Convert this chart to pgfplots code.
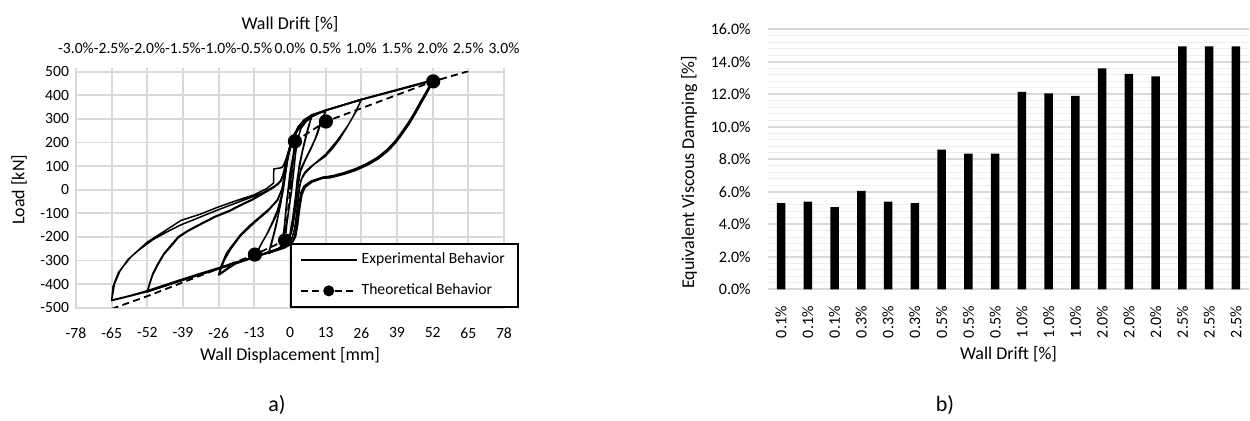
\documentclass[border=0pt]{standalone}
\usepackage{fontspec}
\setmainfont{Carlito}
\usepackage{pgfplots}
\pgfplotsset{compat=1.18}
\definecolor{gridgray}{HTML}{D9D9D9}
\definecolor{minorgray}{HTML}{EEEEEE}

\begin{document}
\begin{tikzpicture}
\useasboundingbox (0,0) rectangle (625pt,-210.5pt);

% ---------------- top (drift) axis of chart a)
\begin{axis}[
  at={(38pt,-35.85pt)}, anchor=north west,
  width=214pt, height=118pt, scale only axis,
  xmin=-3, xmax=3, ymin=0, ymax=1,
  axis x line*=top, axis y line=none,
  xtick={-3,-2.5,-2,-1.5,-1,-0.5,0,0.5,1,1.5,2,2.5,3},
  xticklabels={-3.0\%,-2.5\%,-2.0\%,-1.5\%,-1.0\%,-0.5\%,0.0\%,0.5\%,1.0\%,1.5\%,2.0\%,2.5\%,3.0\%},
  xticklabel style={yshift=3.5pt},
  xlabel={Wall Drift [\%]},
  xlabel style={yshift=-1.5pt},
  tick align=outside, major tick length=2pt,
  tick style={gridgray, line width=0.9pt},
  axis line style={draw=none},
  tick label style={font=\fontsize{7.8}{9.5}\selectfont},
  label style={font=\fontsize{9}{11}\selectfont},
]
\end{axis}

% ---------------- chart a)
\begin{axis}[
  at={(38pt,-35.85pt)}, anchor=north west,
  width=214pt, height=118pt, scale only axis,
  xmin=-78, xmax=78, ymin=-500, ymax=500,
  xtick={-78,-65,-52,-39,-26,-13,0,13,26,39,52,65,78},
  xticklabels={-78,-65,-52,-39,-26,-13,0,13,26,39,52,65,78},
  ytick={-500,-400,-300,-200,-100,0,100,200,300,400,500},
  yticklabels={-500,-400,-300,-200,-100,0,100,200,300,400,500},
  grid=major,
  grid style={gridgray, line width=0.9pt},
  axis line style={gridgray, line width=0.9pt},
  major tick length=0pt,
  tick label style={font=\fontsize{7.8}{9.5}\selectfont},
  xticklabel style={yshift=-6.5pt},
  xlabel={Wall Displacement [mm]},
  ylabel={Load [kN]},
  label style={font=\fontsize{9}{11}\selectfont},
  xlabel style={yshift=2.5pt},
  legend style={at={(0.5,0)}, anchor=south west, draw=black, line width=0.9pt,
    fill=white, font=\fontsize{7.8}{9.5}\selectfont, row sep=4.5pt,
    inner xsep=4.5pt, inner ysep=2.5pt, cells={anchor=west}},
  legend image code/.code={\draw[#1, mark indices={2}, mark size=2.3pt] plot coordinates {(0pt,0pt) (14pt,0pt) (28pt,0pt)};},
]
% 0.1% cycles
\addplot[black, line width=0.75pt, line join=round] coordinates {
(0,0) (0.6,80) (1.3,150) (2.6,200) (2.0,150) (1.2,60) (0.6,0) (-0.4,-80) (-1.2,-150) (-2.6,-205)
(-2.0,-150) (-1.3,-60) (-0.7,0) (0,70) (1.3,155) (2.6,205) (1.9,140) (1.0,40) (0.4,-20)
(-1.3,-150) (-2.6,-210) (-1.8,-130) (-1.0,-40) (-0.4,20) (0.5,100) (1.5,170) (2.6,205)
};
\addlegendentry{Experimental Behavior}
% 0.3% cycles
\addplot[black, line width=0.75pt, line join=round, forget plot] coordinates {
(2.6,205) (4,260) (6,290) (7.8,305) (6.5,260) (5,190) (3.5,110) (2.6,40) (2,-30) (1,-120)
(0,-190) (-1.5,-225) (-3,-240) (-5,-255) (-7.8,-268) (-6.5,-220) (-5,-150) (-3.6,-70)
(-2.5,0) (-1.5,80) (-0.5,160) (1,210) (3,260) (5,290) (7.8,308) (6.2,240) (4.5,160) (3.2,80)
(2.3,0) (1.5,-90) (0.5,-180) (-1,-220) (-4,-250) (-7.8,-270) (-6,-190) (-4.3,-110) (-3,-30)
(-2,50) (-1,130) (0.5,195) (2.5,245) (5,288) (7.8,310)
};
% 0.5% cycles
\addplot[black, line width=0.75pt, line join=round, forget plot] coordinates {
(7.8,310) (10,322) (13,333) (11.5,290) (9.8,230) (7.5,170) (5.7,128) (3.6,71) (2.6,0)
(1.8,-90) (0.8,-170) (-0.5,-215) (-3,-243) (-6,-258) (-9,-270) (-13,-285) (-11.5,-255)
(-10,-220) (-8,-180) (-6.7,-150) (-5,-110) (-3.6,-65) (-2.5,0) (-1.5,80) (-0.5,150) (0.8,210)
(3,265) (6,300) (9,318) (13,335) (11,280) (9,210) (6.5,150) (4,90) (3,20) (2.2,-70) (1,-160)
(-0.5,-210) (-4,-248) (-8,-265) (-13,-287) (-10.5,-230) (-8.5,-190) (-6.5,-140) (-4.5,-85)
(-3,-20) (-2,60) (-1,140) (0.5,205) (3,268) (7,305) (13,337)
};
% 1.0% cycles
\addplot[black, line width=0.75pt, line join=round, forget plot] coordinates {
(13,337) (18,355) (22,368) (26,380) (24.5,345) (23,310) (20.5,260) (18,213) (15.5,175)
(12.9,142) (10,118) (7.7,99) (5.5,75) (4.6,57) (3.6,20) (3.1,-30) (2.5,-100) (1.6,-170)
(0.5,-215) (-2,-240) (-6,-258) (-10,-272) (-14,-288) (-18,-305) (-22,-325) (-26,-360)
(-25,-320) (-23.2,-270) (-21,-235) (-18,-190) (-14.5,-150) (-10.8,-113) (-7.5,-80) (-4.6,-43)
(-3.4,-10) (-2.6,14) (-2,60) (-1.3,120) (-0.3,175) (1.5,235) (4,280) (8,313) (13,336)
(19,358) (26,382) (24,330) (21,270) (17,205) (13,150) (9,110) (5.5,70) (4,40) (3.2,-10)
(2.6,-80) (1.8,-160) (0.5,-213) (-3,-245) (-8,-265) (-14,-290) (-20,-315) (-26,-362)
(-24,-300) (-21.5,-250) (-18,-195) (-13,-140) (-8,-90) (-4.5,-45) (-3,0) (-2.2,50)
(-1.3,120) (0,180) (2,245) (5,292) (13,337) (26,383)
};
% 2.0% cycles
\addplot[black, line width=0.75pt, line join=round, forget plot] coordinates {
(26,383) (32,400) (39,422) (45,440) (52,462) (51,440) (49.5,408) (47.5,368) (45.5,326)
(43.5,287) (41,245) (38.5,205) (35.5,168) (32,135) (28,108) (24,87) (20,71) (16,58) (14,54)
(12,52) (7.7,35) (5.2,14) (4.1,-14) (3.6,-50) (3.1,-85) (2.7,-130) (2.3,-170) (1.5,-210)
(0,-230) (-3,-248) (-8,-265) (-13,-285) (-20,-310) (-26,-333) (-33,-358) (-39.7,-383)
(-46,-408) (-52,-430) (-51,-390) (-50,-355) (-48,-310) (-45.9,-270) (-43,-230) (-40.7,-199)
(-37.5,-175) (-34.5,-156) (-31,-135) (-27.3,-113) (-22,-88) (-18,-64) (-14,-42) (-10.8,-21)
(-8,-2) (-5.7,14) (-4.2,28) (-3.1,43) (-2.3,70) (-1.5,99) (-0.8,140) (0,170) (1.5,225)
(3,265) (5,295) (8,318) (13,337) (20,360) (26,383) (32,402) (39,424) (45,443) (52,465)
(51.2,438) (49.7,405) (47.7,364) (45.7,322) (43.7,283) (41.2,241) (38.7,201) (35.7,164)
(32.2,131) (28.2,104) (24.2,83) (20.2,67) (16.2,55) (14.5,50) (12,49) (8,32) (5.5,10)
(4.4,-20) (3.8,-60) (3.3,-100) (2.8,-150) (2,-200) (0.8,-225) (-3,-250) (-8,-268) (-13,-287)
(-20,-313) (-26,-336) (-33,-361) (-39.7,-386) (-46,-410) (-52,-433) (-51,-395) (-50,-360)
(-48,-315) (-46,-275) (-43,-235) (-40.7,-203) (-37.5,-178) (-34.5,-159) (-31,-138)
(-27.3,-116) (-22,-91) (-18,-67) (-14,-45) (-10.8,-24) (-8,-5) (-5.7,11) (-4.2,25)
(-3.1,40) (-2.3,68) (-1.5,97) (-0.8,138) (0,168) (1.5,223) (3,262) (5,293) (8,316)
(13,335) (26,381) (39,421) (52,462)
};
% 2.5% cycles
\addplot[black, line width=0.75pt, line join=round, forget plot] coordinates {
(52,462) (51.1,439) (49.6,406) (47.6,366) (45.6,324) (43.6,285) (41.1,243) (38.6,203)
(35.6,166) (32.1,133) (28.1,106) (24.1,85) (20.1,69) (16.1,56) (14.2,52) (12,51) (7.8,34)
(5.3,12) (4.2,-16) (3.7,-55) (3.2,-92) (2.7,-140) (2.1,-190) (1,-222) (-2,-247) (-7,-264)
(-13,-286) (-20,-311) (-26,-335) (-33,-360) (-39.7,-385) (-46,-409) (-52,-432) (-58,-450)
(-65,-470) (-64.5,-410) (-62.5,-350) (-58,-285) (-52,-222) (-45,-170) (-39.7,-130)
(-33,-105) (-26.5,-75) (-20,-48) (-12.9,-21) (-8.5,5) (-6,28) (-5.9,88) (-3.1,93)
(-2.5,100) (-1.5,128) (-0.5,165) (0.5,199) (2,240) (4,280) (8,315) (13,336) (26,382)
(39,422) (52,462) (50.9,441) (49.4,410) (47.4,370) (45.4,328) (43.4,289) (40.9,247)
(38.4,207) (35.4,170) (31.9,137) (27.9,110) (23.9,89) (19.9,73) (15.9,60) (13.8,56) (12,53)
(7.6,36) (5.1,15) (4,-12) (3.5,-48) (3,-82) (2.6,-125) (2.2,-168) (1.3,-212) (-1,-240)
(-6,-262) (-13,-284) (-20,-309) (-26,-331) (-33,-356) (-39.7,-381) (-46,-405) (-52,-428)
(-58,-448) (-65,-468) (-64,-400) (-62,-345) (-59,-295) (-55,-255) (-50,-212) (-45,-180)
(-40,-150) (-35,-127) (-30,-103) (-25,-80) (-20,-58) (-15,-36) (-10,-14) (-7,5) (-5,20)
(-3.5,35) (-2.6,62) (-1.8,100) (-1,140) (0,180) (1.5,225)
};
% theoretical
\addplot[black, line width=0.9pt, dash pattern=on 3.5pt off 2.2pt,
  mark=*, mark size=3.1pt, mark options={solid, fill=black}, mark indices={2,3,4,5,6,7}]
  coordinates {
(-65,-505) (-52.2,-452) (-12.8,-275) (-1.8,-215) (1.8,205) (13.1,289) (52.2,459) (65,502)
};
\addlegendentry{Theoretical Behavior}
\end{axis}

% ---------------- chart b)
\begin{axis}[
  at={(383.85pt,-14.65pt)}, anchor=north west,
  width=240.8pt, height=130pt, scale only axis,
  ybar, bar width=4.2pt,
  xmin=-0.5, xmax=17.5, ymin=0, ymax=16,
  xtick={0,1,2,3,4,5,6,7,8,9,10,11,12,13,14,15,16,17},
  xticklabels={0.1\%,0.1\%,0.1\%,0.3\%,0.3\%,0.3\%,0.5\%,0.5\%,0.5\%,1.0\%,1.0\%,1.0\%,2.0\%,2.0\%,2.0\%,2.5\%,2.5\%,2.5\%},
  ytick={0,2,4,6,8,10,12,14,16},
  yticklabels={0.0\%,2.0\%,4.0\%,6.0\%,8.0\%,10.0\%,12.0\%,14.0\%,16.0\%},
  minor y tick num=4,
  ymajorgrids, yminorgrids,
  major grid style={gridgray, line width=0.9pt},
  minor grid style={minorgray, line width=0.7pt},
  axis line style={draw=none},
  major tick length=0pt, minor tick length=0pt,
  tick label style={font=\fontsize{8}{9.5}\selectfont},
  xticklabel style={yshift=-5pt, rotate=90, anchor=east},
  yticklabel style={xshift=-5pt},
  xlabel={Wall Drift [\%]},
  xlabel style={yshift=2.5pt},
  ylabel={Equivalent Viscous Damping [\%]},
  label style={font=\fontsize{9}{11}\selectfont},
  ylabel style={at={(ticklabel cs:0.45)}},
]
\addplot[fill=black, draw=none] coordinates {
(0,5.3) (1,5.4) (2,5.05) (3,6.05) (4,5.4) (5,5.3) (6,8.6) (7,8.35) (8,8.35)
(9,12.15) (10,12.05) (11,11.9) (12,13.6) (13,13.25) (14,13.1) (15,14.95) (16,14.95) (17,14.95)
};
\end{axis}

\node[font=\fontsize{11}{13}\selectfont] at (138.5pt,-202.5pt) {a)};
\node[font=\fontsize{11}{13}\selectfont] at (472.5pt,-202.5pt) {b)};
\end{tikzpicture}
\end{document}
